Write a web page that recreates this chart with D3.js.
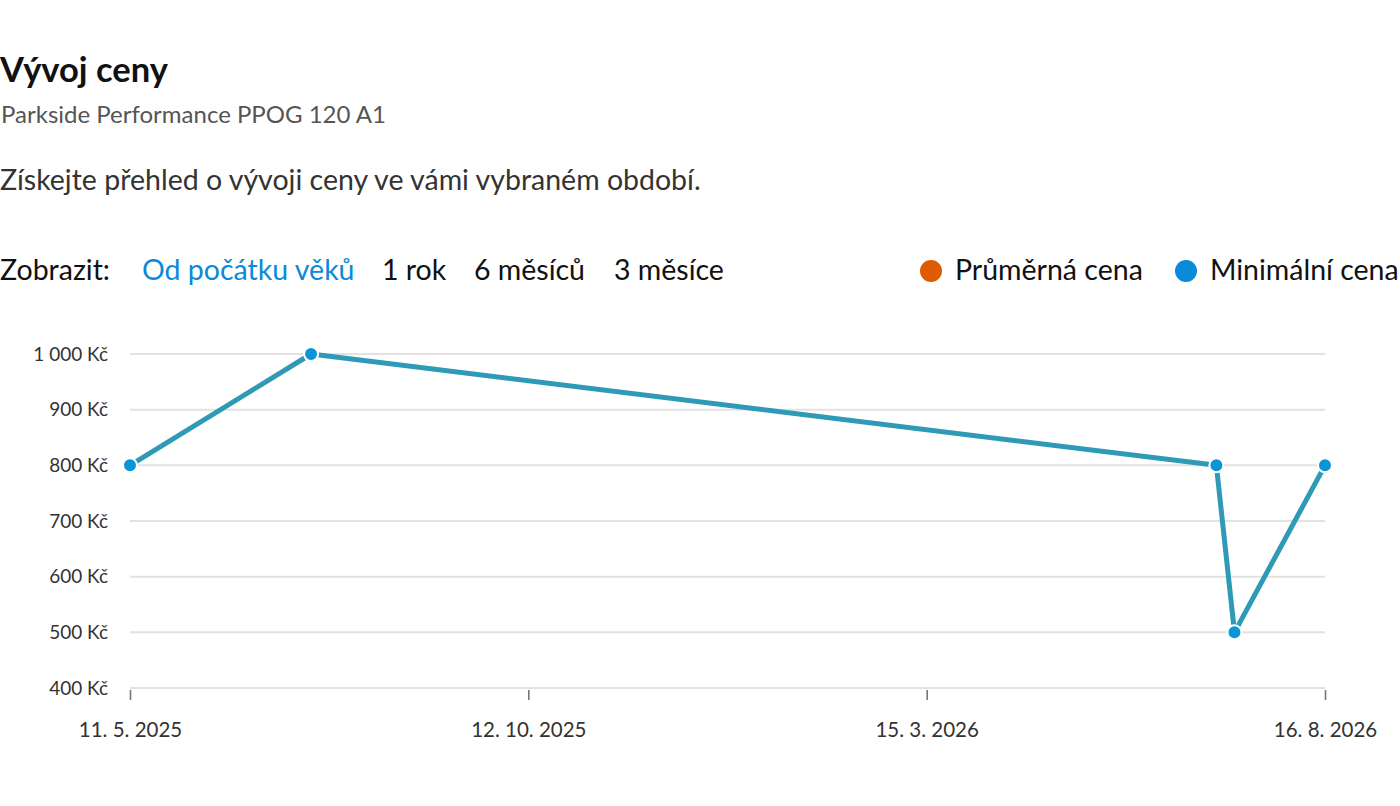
<!DOCTYPE html>
<html lang="cs">
<head>
<meta charset="utf-8">
<script src="https://cdn.jsdelivr.net/npm/d3@7"></script>
<style>
  html, body { margin: 0; padding: 0; background: #fff; overflow: hidden; }
  svg { display: block; font-family: Lato, "Noto Sans", sans-serif; }
</style>
</head>
<body>
<svg id="chart" width="1400" height="806"></svg>
<script>
// ── DATA ───────────────────────────────────────────────────────────────────
const dates      = ['2025-05-11', '2025-07-20', '2026-07-05', '2026-07-12', '2026-08-16'];
const minPrices  = [800, 1000, 800, 500, 800];
const yTicks     = [400, 500, 600, 700, 800, 900, 1000];
const xTickDates = ['2025-05-11', '2025-10-12', '2026-03-15', '2026-08-16'];
const periods    = ['Od počátku věků', '1 rok', '6 měsíců', '3 měsíce'];
const legendKeys = ['Průměrná cena', 'Minimální cena'];
const legendCols = ['#e05a00', '#0a8ad8'];

const parse = d3.timeParse('%Y-%m-%d');
const points = dates.map((d, i) => ({ date: parse(d), value: minPrices[i] }));

// ── LAYOUT ─────────────────────────────────────────────────────────────────
const svg = d3.select('#chart');
const M = { left: 130, right: 1325, top: 354, bottom: 688 };

// header texts
svg.append('text').attr('x', 0).attr('y', 82)
  .attr('font-size', 34.5).attr('font-weight', 700).attr('fill', '#111')
  .text('Vývoj ceny');
svg.append('text').attr('x', 1).attr('y', 123)
  .attr('font-size', 24).attr('fill', '#555')
  .text('Parkside Performance PPOG 120 A1');
svg.append('text').attr('x', 0).attr('y', 190)
  .attr('font-size', 28.5).attr('fill', '#333')
  .text('Získejte přehled o vývoji ceny ve vámi vybraném období.');

// period switcher
svg.append('text').attr('x', 0).attr('y', 280)
  .attr('font-size', 28.5).attr('fill', '#111').text('Zobrazit:');
const periodX = [142, 382, 474, 614];
svg.selectAll('.period').data(periods).enter().append('text')
  .attr('class', 'period')
  .attr('x', (d, i) => periodX[i]).attr('y', 280)
  .attr('font-size', 28.5)
  .attr('fill', (d, i) => i === 0 ? '#0a8ad8' : '#111')
  .text(d => d);

// legend
const legendX = [931, 1186];
const lg = svg.selectAll('.legend').data(legendKeys).enter().append('g')
  .attr('class', 'legend')
  .attr('transform', (d, i) => `translate(${legendX[i]},271)`);
lg.append('circle').attr('r', 11).attr('fill', (d, i) => legendCols[i]);
lg.append('text').attr('x', 24).attr('y', 9)
  .attr('font-size', 28.5).attr('fill', '#111').text(d => d);

// ── SCALES ─────────────────────────────────────────────────────────────────
const x = d3.scaleTime()
  .domain([parse(xTickDates[0]), parse(xTickDates[xTickDates.length - 1])])
  .range([M.left, M.right]);
const y = d3.scaleLinear().domain([400, 1000]).range([M.bottom, M.top]);

const fmtKc = v => d3.format(',')(v).replace(/,/g, '\u00a0') + ' Kč';
const fmtDate = d3.timeFormat('%-d. %-m. %Y');

// gridlines
svg.append('g').selectAll('line').data(yTicks).enter().append('line')
  .attr('x1', M.left).attr('x2', M.right)
  .attr('y1', d => y(d)).attr('y2', d => y(d))
  .attr('stroke', '#e2e2e2').attr('stroke-width', 2);

// y axis labels
const yAxis = svg.append('g').attr('transform', `translate(${M.left - 22},0)`)
  .call(d3.axisLeft(y).tickValues(yTicks).tickFormat(fmtKc).tickSize(0).tickPadding(0));
yAxis.select('.domain').remove();
yAxis.selectAll('text').attr('font-size', 19).attr('fill', '#333')
  .attr('font-family', 'Lato, "Noto Sans", sans-serif');

// x axis
const xAxis = svg.append('g').attr('transform', `translate(0,${M.bottom})`)
  .call(d3.axisBottom(x).tickValues(xTickDates.map(parse)).tickFormat(fmtDate).tickSize(12));
xAxis.select('.domain').remove();
xAxis.selectAll('line').attr('stroke', '#777').attr('stroke-width', 1.6).attr('y1', 2);
xAxis.selectAll('text').attr('font-size', 20.5).attr('fill', '#333')
  .attr('y', 49).attr('dy', null)
  .attr('font-family', 'Lato, "Noto Sans", sans-serif');

// ── LINE & POINTS ──────────────────────────────────────────────────────────
const line = d3.line().x(d => x(d.date)).y(d => y(d.value));
svg.append('path').datum(points)
  .attr('d', line)
  .attr('fill', 'none').attr('stroke', '#2e9ab5')
  .attr('stroke-width', 5).attr('stroke-linejoin', 'round');

svg.selectAll('.pt').data(points).enter().append('circle')
  .attr('class', 'pt')
  .attr('cx', d => x(d.date)).attr('cy', d => y(d.value))
  .attr('r', 7).attr('fill', '#0a96d6')
  .attr('stroke', '#fff').attr('stroke-width', 2);
</script>
</body>
</html>
